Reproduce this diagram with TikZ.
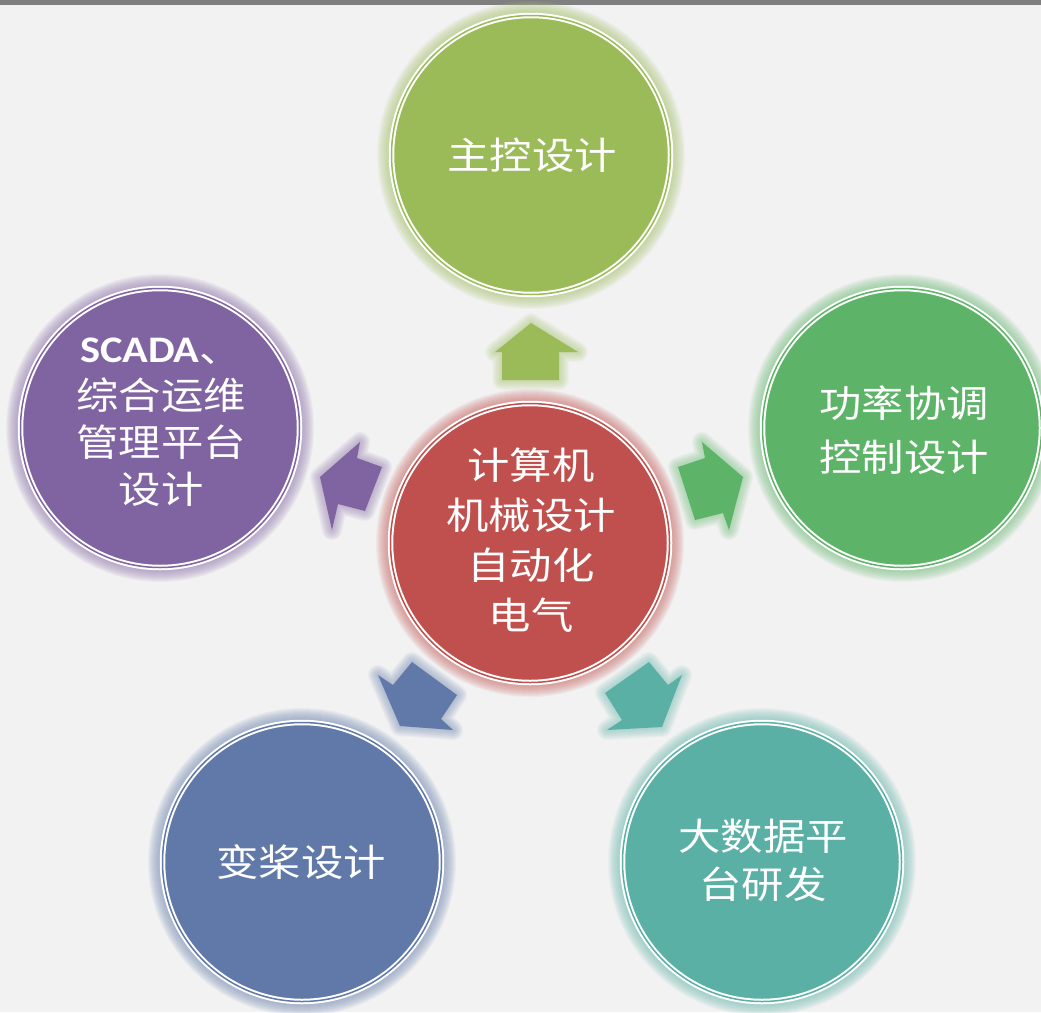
\documentclass[tikz,border=0pt]{standalone}
\usepackage{fontspec}
\usepackage{graphicx}
\newfontfamily\cjk{Noto Sans CJK SC}
\newfontfamily\latf{Carlito}
\definecolor{bgc}{HTML}{F2F2F2}
\definecolor{barc}{HTML}{7F7F7F}
\definecolor{cgreenA}{HTML}{9BBB59}
\definecolor{cgreenB}{HTML}{5DB468}
\definecolor{cpurple}{HTML}{8064A2}
\definecolor{cred}{HTML}{C0504D}
\definecolor{cblue}{HTML}{6079A8}
\definecolor{cteal}{HTML}{5BB0A6}
\newcommand\stx[1]{\scalebox{1.13}[1]{#1}}
\begin{document}
\begin{tikzpicture}[x=1pt,y=-1pt,
  bubble/.style={circle, minimum size=279pt, inner sep=0pt, outer sep=0pt,
    fill=#1, draw=white, double=#1, double distance=1.5pt, line width=2pt},
  txt/.style={text=white, font=\cjk\fontsize{37.5}{#1}\selectfont, align=center, inner sep=0pt},
]
\fill[bgc] (0,0) rectangle (1041,1012);
\fill[barc] (0,0) rectangle (1041,5);
\useasboundingbox (0,0) rectangle (1041,1012);

\coordinate (ctop) at (531,155);
\coordinate (cright) at (902,428);
\coordinate (cleft) at (160,428);
\coordinate (cmid) at (530,543);
\coordinate (cbl) at (302,862);
\coordinate (cbr) at (762,862);

% glows of circles
\foreach \c/\col in {ctop/cgreenA, cright/cgreenB, cleft/cpurple, cmid/cred, cbl/cblue, cbr/cteal}{
  \foreach \k in {1,...,12}{
    \fill[\col!75!white, opacity=0.085] (\c) circle [radius={142+\k}];
  }
}

% arrows (glow then fill)
\newcommand\arrowshape[2]{%
  \foreach \w in {2,4,...,20}{
    \draw[#1!75!white, opacity=0.08, line width=\w pt, line join=round] #2;
  }
  \fill[#1] #2;
}
\arrowshape{cgreenA}{(531,323) -- (578,352) -- (559,352) -- (559,380) -- (502,380) -- (502,352) -- (495,352) -- cycle}
\arrowshape{cpurple}{(320,477) -- (360,442) -- (357,458) -- (382,467) -- (365,511) -- (338,504) -- (332,530) -- cycle}
\arrowshape{cgreenB}{(743,477) -- (729,530) -- (723,513) -- (695,520) -- (678,467) -- (705,458) -- (702,442) -- cycle}
\arrowshape{cblue}{(400,726) -- (378,675) -- (393,685) -- (412,662) -- (457,695) -- (441,719) -- (453,730) -- cycle}
\arrowshape{cteal}{(662,727) -- (607,730) -- (622,720) -- (605,693) -- (649,662) -- (668,685) -- (682,675) -- cycle}

% circles
\node[bubble=cgreenA] (top) at (ctop) {};
\node[bubble=cgreenB] (right) at (cright) {};
\node[bubble=cpurple] (left) at (cleft) {};
\node[bubble=cred] (mid) at (cmid) {};
\node[bubble=cblue] (bl) at (cbl) {};
\node[bubble=cteal] (br) at (cbr) {};

% texts
\node[txt=48] (ttop) at (532,155) {\stx{主控设计}};
\node[txt=54] (tright) at (904,430) {\stx{功率协调}\\\stx{控制设计}};
\node[txt=47] (tleft) at (161,422) {\stx{{\latf\bfseries\fontsize{37.5}{47}\selectfont SCADA}、}\\\stx{综合运维}\\\stx{管理平台}\\\stx{设计}};
\node[txt=50] (tmid) at (531,540) {\stx{计算机}\\\stx{机械设计}\\\stx{自动化}\\\stx{电气}};
\node[txt=48] (tbl) at (301,862) {\stx{变桨设计}};
\node[txt=48] (tbr) at (763,860) {\stx{大数据平}\\\stx{台研发}};
\end{tikzpicture}
\end{document}
